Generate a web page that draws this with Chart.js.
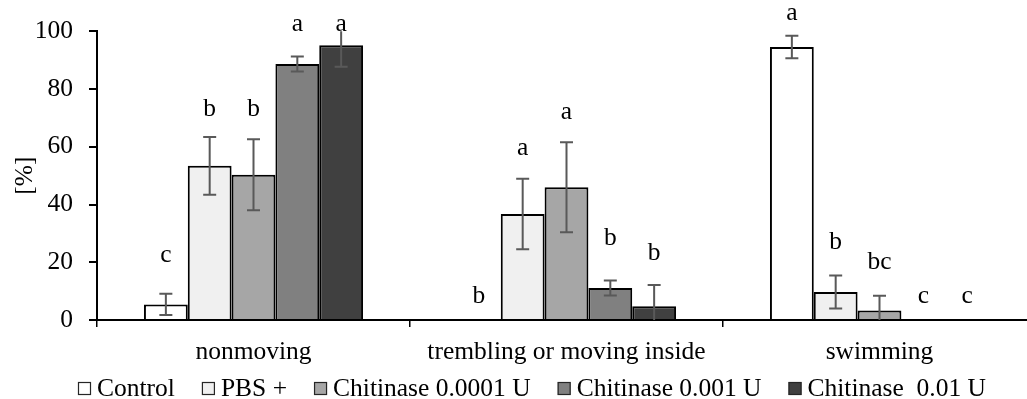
<!DOCTYPE html>
<html>
<head>
<meta charset="utf-8">
<script src="https://cdn.jsdelivr.net/npm/chart.js@4.4.1/dist/chart.umd.min.js"></script>
<style>
  html, body { margin: 0; padding: 0; background: #fff; overflow: hidden; }
  #wrap { width: 1040px; height: 399px; }
</style>
</head>
<body>
<div id="wrap"><canvas id="chart"></canvas></div>
<script>
// categories and series
const categories = ['nonmoving', 'trembling or moving inside', 'swimming'];
const seriesNames = ['Control', 'PBS +', 'Chitinase 0.0001 U', 'Chitinase 0.001 U', 'Chitinase  0.01 U'];
const seriesColors = ['#ffffff', '#f0f0f0', '#a6a6a6', '#808080', '#404040'];

// mean values [%] per series (nonmoving, trembling, swimming)
const control   = [5.4, 0, 94.6];
const pbs       = [53.4, 36.7, 9.7];
const chit0001  = [50.3, 46.0, 3.3];
const chit001   = [88.7, 11.1, 0];
const chit01    = [95.2, 4.8, 0];

// error (+/-)
const controlErr  = [3.7, 0, 3.9];
const pbsErr      = [10.0, 12.2, 5.7];
const chit0001Err = [12.3, 15.6, 5.1];
const chit001Err  = [2.6, 2.6, 0];
const chit01Err   = [7.5, 7.3, 0];

// significance letters and the height (in %) where they sit
const controlLet  = ['c', 'b', 'a'];
const pbsLet      = ['b', 'a', 'b'];
const chit0001Let = ['b', 'a', 'bc'];
const chit001Let  = ['a', 'b', 'c'];
const chit01Let   = ['a', 'b', 'c'];
const controlLetY  = [20.1, 5.8, 104];
const pbsLetY      = [70.7, 57.2, 24.7];
const chit0001LetY = [70.7, 69.6, 17.5];
const chit001LetY  = [100.2, 25.9, 6.0];
const chit01LetY   = [100.2, 20.9, 6.0];

const yTicks = [0, 20, 40, 60, 80, 100];

const values = [control, pbs, chit0001, chit001, chit01];
const errors = [controlErr, pbsErr, chit0001Err, chit001Err, chit01Err];
const letters = [controlLet, pbsLet, chit0001Let, chit001Let, chit01Let];
const letterY = [controlLetY, pbsLetY, chit0001LetY, chit001LetY, chit01LetY];

const FONT = '"Liberation Serif", "Times New Roman", serif';
const FS = 25.5;

// error bars, letters and legend
const extras = {
    id: 'extras',
    afterDatasetsDraw(chart) {
        const ctx = chart.ctx;
        const y = chart.scales.y;
        const area = chart.chartArea;
        ctx.save();
        ctx.strokeStyle = '#595959';
        ctx.lineWidth = 2;
        chart.data.datasets.forEach((ds, i) => {
            const meta = chart.getDatasetMeta(i);
            meta.data.forEach((bar, j) => {
                const e = errors[i][j];
                if (!e) return;
                const v = values[i][j];
                let top = y.getPixelForValue(v + e);
                let bot = y.getPixelForValue(v - e);
                const capTop = top >= area.top;
                const capBot = bot <= area.bottom;
                top = Math.max(top, area.top);
                bot = Math.min(bot, area.bottom);
                ctx.beginPath();
                ctx.moveTo(bar.x, top);
                ctx.lineTo(bar.x, bot);
                if (capTop) { ctx.moveTo(bar.x - 6.5, top); ctx.lineTo(bar.x + 6.5, top); }
                if (capBot) { ctx.moveTo(bar.x - 6.5, bot); ctx.lineTo(bar.x + 6.5, bot); }
                ctx.stroke();
            });
        });
        ctx.restore();
    },
    afterDraw(chart) {
        const ctx = chart.ctx;
        const y = chart.scales.y;
        ctx.save();
        ctx.font = FS + 'px ' + FONT;
        ctx.fillStyle = '#000';
        ctx.textAlign = 'center';
        ctx.textBaseline = 'alphabetic';
        chart.data.datasets.forEach((ds, i) => {
            chart.getDatasetMeta(i).data.forEach((bar, j) => {
                ctx.fillText(letters[i][j], bar.x, y.getPixelForValue(letterY[i][j]));
            });
        });

        // legend
        const box = 13, gapBox = 6, gapItem = 27;
        const widths = seriesNames.map(n => box + gapBox + ctx.measureText(n).width);
        const total = widths.reduce((a, b) => a + b, 0) + gapItem * (widths.length - 1);
        let x = 532 - total / 2;
        ctx.textAlign = 'left';
        seriesNames.forEach((n, i) => {
            ctx.fillStyle = seriesColors[i];
            ctx.fillRect(x, 382, box, box);
            ctx.strokeStyle = '#262626';
            ctx.lineWidth = 1.2;
            ctx.strokeRect(x + 0.5, 382.5, box - 1, box - 1);
            ctx.fillStyle = '#000';
            ctx.fillText(n, x + box + gapBox, 396);
            x += widths[i] + gapItem;
        });
        ctx.restore();
    }
};

new Chart(document.getElementById('chart'), {
    type: 'bar',
    data: {
        labels: categories,
        datasets: seriesNames.map((name, i) => ({
            label: name,
            data: values[i],
            backgroundColor: seriesColors[i],
            borderColor: '#000',
            borderWidth: 2,
            categoryPercentage: 0.7,
            barPercentage: 1.0
        }))
    },
    options: {
        responsive: true,
        maintainAspectRatio: false,
        animation: false,
        events: [],
        layout: { padding: { top: 30, right: 4, left: 0, bottom: 0 } },
        plugins: {
            legend: { display: false },
            tooltip: { enabled: false }
        },
        scales: {
            x: {
                afterFit(scale) { scale.height = 79; },
                grid: {
                    offset: true,
                    drawOnChartArea: false,
                    tickLength: 7,
                    color: '#000',
                    lineWidth: 1.5
                },
                border: { color: '#000', width: 2 },
                ticks: {
                    color: '#000',
                    padding: 10,
                    maxRotation: 0,
                    autoSkip: false,
                    font: { family: FONT, size: FS }
                }
            },
            y: {
                min: 0,
                max: 100,
                afterFit(scale) { scale.width = 97; },
                afterBuildTicks(scale) { scale.ticks = yTicks.map(v => ({ value: v })); },
                grid: {
                    drawOnChartArea: false,
                    tickLength: 8,
                    color: '#000',
                    lineWidth: 2
                },
                border: { color: '#000', width: 2 },
                ticks: {
                    color: '#000',
                    padding: 16,
                    font: { family: FONT, size: FS }
                },
                title: {
                    display: true,
                    text: '[%]',
                    color: '#000',
                    padding: { top: 10, bottom: 0 },
                    font: { family: FONT, size: FS }
                }
            }
        }
    },
    plugins: [extras]
});
</script>
</body>
</html>
